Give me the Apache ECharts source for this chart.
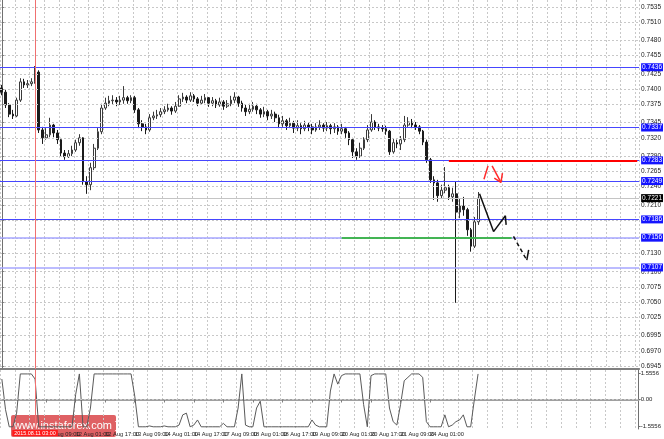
<!DOCTYPE html>
<html>
<head>
<meta charset="utf-8">
<script src="https://cdn.jsdelivr.net/npm/echarts@6/dist/echarts.min.js"></script>
<style>
  html, body { margin: 0; padding: 0; background: #fff; }
  #chart { width: 664px; height: 439px; }
</style>
</head>
<body>
<div id="chart"></div>
<script>
// AUDUSD 2h bars, price in pips (x 0.0001): [open, close, low, high]
var candles = [
  [7402,7395,7390,7407],[7395,7374,7369,7399],[7374,7359,7354,7377],[7359,7356,7351,7366],
  [7356,7382,7354,7386],[7382,7412,7379,7418],[7412,7407,7402,7417],[7407,7409,7402,7415],
  [7409,7412,7405,7418],[7412,7428,7409,7438],[7428,7333,7328,7431],[7333,7320,7310,7338],
  [7320,7325,7317,7336],[7325,7341,7321,7353],[7341,7328,7321,7343],[7328,7317,7310,7333],
  [7317,7295,7290,7320],[7295,7289,7284,7300],[7289,7294,7287,7300],[7294,7300,7290,7307],
  [7300,7312,7297,7317],[7312,7320,7307,7326],[7320,7248,7243,7321],[7248,7243,7228,7257],
  [7243,7271,7234,7279],[7271,7303,7267,7310],[7303,7330,7300,7336],[7330,7369,7326,7376],
  [7369,7377,7366,7386],[7377,7381,7372,7389],[7381,7382,7374,7390],[7382,7379,7372,7387],
  [7379,7382,7374,7389],[7382,7386,7376,7405],[7386,7381,7376,7389],[7381,7386,7377,7390],
  [7386,7366,7361,7389],[7366,7343,7336,7369],[7343,7338,7331,7349],[7338,7333,7326,7343],
  [7333,7353,7330,7359],[7353,7356,7349,7363],[7356,7358,7351,7366],[7358,7363,7354,7369],
  [7363,7366,7359,7372],[7366,7369,7363,7376],[7369,7364,7358,7372],[7364,7372,7361,7379],
  [7372,7384,7371,7390],[7384,7387,7379,7394],[7387,7382,7377,7390],[7382,7389,7379,7395],
  [7389,7384,7379,7392],[7384,7377,7372,7387],[7377,7382,7374,7389],[7382,7386,7377,7392],
  [7386,7377,7371,7387],[7377,7381,7372,7387],[7381,7374,7369,7384],[7374,7379,7371,7386],
  [7379,7372,7366,7382],[7372,7376,7369,7382],[7376,7382,7372,7389],[7382,7387,7377,7395],
  [7387,7377,7371,7389],[7377,7369,7363,7381],[7369,7363,7356,7374],[7363,7367,7359,7376],
  [7367,7372,7363,7379],[7372,7366,7359,7376],[7366,7359,7353,7369],[7359,7363,7354,7371],
  [7363,7356,7349,7366],[7356,7359,7351,7366],[7359,7353,7346,7363],[7353,7343,7336,7358],
  [7343,7348,7338,7356],[7348,7340,7333,7351],[7340,7344,7336,7353],[7344,7336,7328,7348],
  [7336,7340,7331,7349],[7340,7335,7326,7344],[7335,7341,7331,7348],[7341,7338,7331,7346],
  [7338,7333,7326,7343],[7333,7338,7330,7344],[7338,7341,7333,7349],[7341,7336,7330,7344],
  [7336,7340,7331,7346],[7340,7335,7326,7343],[7335,7338,7328,7344],[7338,7331,7325,7341],
  [7331,7335,7326,7343],[7335,7328,7320,7338],[7328,7317,7308,7331],[7317,7297,7287,7320],
  [7297,7290,7284,7303],[7290,7303,7287,7312],[7303,7317,7300,7321],[7317,7333,7313,7341],
  [7333,7346,7330,7359],[7346,7338,7333,7349],[7338,7336,7331,7343],[7336,7335,7330,7341],
  [7335,7331,7325,7340],[7331,7297,7292,7333],[7297,7312,7294,7318],[7312,7310,7303,7317],
  [7310,7317,7300,7323],[7317,7341,7313,7356],[7341,7346,7338,7354],[7346,7341,7336,7351],
  [7341,7338,7333,7346],[7338,7331,7326,7341],[7331,7313,7308,7333],[7313,7284,7279,7317],
  [7284,7251,7246,7287],[7251,7246,7218,7257],[7246,7225,7215,7251],[7225,7234,7221,7243],
  [7234,7238,7229,7272],[7238,7223,7218,7243],[7223,7228,7215,7238],[7228,7198,7049,7248],
  [7198,7208,7188,7221],[7208,7202,7192,7223],[7202,7169,7159,7205],[7169,7142,7133,7172],
  [7142,7182,7139,7190],[7182,7221,7177,7231]
];

// oscillator in the lower panel, one value per bar
var oscillator = [
  1.2, -0.6, -1.6, -1.6, -0.8, 1.5, 1.5, 1.5, 1.5, 1.2,
  -1.6, -1.6, -1.6, -1.6, -1.6, -1.6, -1.6, -1.6, -1.6, -1.6,
  0.3, 1.5, -1.6, -1.6, -0.5, 1.5, 1.5, 1.5, 1.5, 1.5,
  1.5, 1.5, 1.5, 1.5, 1.5, 1.5, 0.2, -1.6, -1.6, -1.6,
  -1.55, -1.6, -1.6, -1.6, -1.55, -1.6, -1.6, -1.6, -1.5, -0.9,
  -0.8, -1.6, -1.5, -1.2, -1.6, -1.6, -1.6, -1.6, -1.6, -1.6,
  -1.4, -1.6, -1.6, -1.6, -0.5, 1.5, -1.5, -1.6, -1.6, -0.5,
  -0.1, -1.6, -1.6, -1.6, -1.6, -1.6, -1.6, -1.6, -1.6, -1.6,
  -1.6, -1.6, -1.6, -1.6, -1.2, -1.5, -1.6, -1.6, -1.6, 0.5,
  1.5, 0.9, 1.4, 1.5, 1.5, 1.5, 1.5, 1.5, -0.3, -1.6,
  1.4, 1.5, 1.5, 1.5, 1.5, -0.5, -1.3, -1.5, -0.3, 1.1,
  1.3, 1.5, 1.5, 1.5, 1.3, -1.3, -1.6, -1.6, -1.6, -1.6,
  -0.9, -1.6, -1.5, -1.3, -1.2, -0.9, -1.6, -1.6, 0.0, 1.5
];

var barSlots = 173; // bars that fit the window, incl. empty future area
var timeLabels = {
  4: '10 Aug 17:00', 12: '11 Aug 09:00', 20: '12 Aug 01:00', 28: '12 Aug 17:00',
  36: '13 Aug 09:00', 44: '14 Aug 01:00', 52: '14 Aug 17:00', 60: '17 Aug 09:00',
  68: '18 Aug 01:00', 76: '18 Aug 17:00', 84: '19 Aug 09:00', 92: '20 Aug 01:00',
  100: '20 Aug 17:00', 108: '21 Aug 09:00', 116: '24 Aug 01:00', 124: '24 Aug 17:00'
};
var priceTicks = [0.7535, 0.7510, 0.7480, 0.7455, 0.7425, 0.7400, 0.7375, 0.7345, 0.7320,
  0.7290, 0.7265, 0.7240, 0.7210, 0.7185, 0.7155, 0.7130, 0.7100, 0.7075, 0.7050,
  0.7025, 0.6995, 0.6970, 0.6945];
var oscTicks = [1.5556, 0, -1.5556];

// levels drawn on the chart
var blueLevels = [0.7436, 0.7337, 0.7283, 0.7249, 0.7186];
var faintLevels = [0.7156, 0.7107];
var lastPrice = 0.7221;
var redLevel = { from: 121, to: 172, value: 0.7283 };
var greenLevel = { from: 92, to: 138, value: 0.7156 };
var crosshairBar = 9;
var crosshairTime = '2015.08.11 03:00';

// hand drawn forecast, [bar position, price]
var forecastSolid = [[129.3, 0.7228], [133.1, 0.7166], [136.3, 0.7192], [136.5, 0.7177]];
var forecastDashed = [[138.5, 0.7158], [142.1, 0.7119]];
var forecastHook = [[142.1, 0.7119], [142.6, 0.7136]];
var redStrokeA = [[130.5, 0.7252], [131.6, 0.7274]];
var redStrokeB = [[132.7, 0.7274], [135.1, 0.7247]];
var redHead = [[133.3, 0.7254], [135.1, 0.7247], [135.5, 0.7262]];

var categories = [];
for (var i = 0; i < barSlots; i++) categories.push(String(i));

var ohlc = candles.map(function (c) {
  return c.map(function (v) { return v / 10000; });
});

var chart = echarts.init(document.getElementById('chart'));
var font = 'Liberation Sans';
var gridColor = '#c8c8c8';

function levelItem(value, lineColor, boxColor, width) {
  return {
    yAxis: value,
    lineStyle: { color: lineColor, width: width, type: 'solid', opacity: 1 },
    label: {
      show: true, position: 'end', distance: 2,
      formatter: value.toFixed(4), color: '#fff', backgroundColor: boxColor,
      fontSize: 6.5, fontFamily: font, padding: [1, 1, 0, 1]
    }
  };
}

var gridMarks = priceTicks.map(function (v) {
  return { yAxis: v, lineStyle: { color: gridColor, type: [2, 2], width: 1 }, label: { show: false } };
});

var levelMarks = [];
blueLevels.forEach(function (v) { levelMarks.push(levelItem(v, '#4646ff', '#1414ff', 1.2)); });
faintLevels.forEach(function (v) { levelMarks.push(levelItem(v, '#a6a6ff', '#1414ff', 1.5)); });
levelMarks.push(levelItem(lastPrice, '#c4c4c4', '#000', 1));

var overlayMarks = [
  { xAxis: crosshairBar, lineStyle: { color: '#f07070', width: 1, type: 'solid' }, label: { show: false } },
  [
    { coord: [redLevel.from, redLevel.value], lineStyle: { color: '#ff0000', width: 2, type: 'solid' }, label: { show: false } },
    { coord: [redLevel.to, redLevel.value] }
  ],
  [
    { coord: [greenLevel.from, greenLevel.value], lineStyle: { color: '#1db31d', width: 1.5, type: 'solid' }, label: { show: false } },
    { coord: [greenLevel.to, greenLevel.value] }
  ]
];

function markSeries(data, z) {
  return {
    type: 'line', xAxisIndex: 0, yAxisIndex: 0, data: [], z: z, silent: true,
    markLine: { symbol: ['none', 'none'], silent: true, animation: false, precision: 4, data: data }
  };
}

function drawn(data, color, dashed) {
  return {
    type: 'line', xAxisIndex: 2, yAxisIndex: 0, data: data, symbol: 'none',
    silent: true, z: 5,
    lineStyle: { color: color, width: 1.5, type: dashed ? [4, 3] : 'solid' }
  };
}

chart.setOption({
  animation: false,
  backgroundColor: '#fff',
  grid: [
    { left: 0, right: 21, top: 0, height: 369 },
    { left: 0, right: 21, top: 370, height: 59 }
  ],
  xAxis: [
    {
      type: 'category', gridIndex: 0, data: categories, boundaryGap: true,
      axisLine: { show: true, lineStyle: { color: '#808080', width: 2 } },
      axisTick: { show: false }, axisLabel: { show: false },
      splitLine: { show: true, interval: function (i) { return i % 4 === 0; }, lineStyle: { color: gridColor, type: [2, 2] } }
    },
    {
      type: 'category', gridIndex: 1, data: categories, boundaryGap: true,
      axisLine: { show: true, lineStyle: { color: '#a0a0a0', width: 2 } },
      axisTick: { show: true, alignWithLabel: true, length: 3, interval: function (i) { return timeLabels[i] !== undefined; }, lineStyle: { color: '#808080' } },
      axisLabel: {
        show: true, interval: function (i) { return timeLabels[i] !== undefined; },
        formatter: function (v) { return timeLabels[v] || ''; },
        align: 'left', margin: 2, fontSize: 5.7, fontFamily: font, color: '#222', hideOverlap: false
      },
      splitLine: { show: true, interval: function (i) { return i % 4 === 0; }, lineStyle: { color: gridColor, type: [2, 2] } }
    },
    { type: 'value', gridIndex: 0, min: -0.5, max: barSlots - 0.5, show: false }
  ],
  yAxis: [
    {
      type: 'value', gridIndex: 0, position: 'right', min: 0.69402, max: 0.75465,
      axisLine: { show: true, lineStyle: { color: '#707070' } },
      axisTick: { show: true, customValues: priceTicks, length: 2, lineStyle: { color: '#707070' } },
      axisLabel: { customValues: priceTicks, formatter: function (v) { return v.toFixed(4); }, fontSize: 6.5, fontFamily: font, color: '#222', margin: 2 },
      splitLine: { show: false }
    },
    {
      type: 'value', gridIndex: 1, position: 'right', min: -1.73, max: 1.73,
      axisLine: { show: true, lineStyle: { color: '#707070' } },
      axisTick: { show: true, customValues: oscTicks, length: 2, lineStyle: { color: '#707070' } },
      axisLabel: { customValues: oscTicks, formatter: function (v) { return v === 0 ? '0.00' : v.toFixed(4); }, fontSize: 6, fontFamily: font, color: '#222', margin: 2 },
      splitLine: { show: false }
    }
  ],
  series: [
    markSeries(gridMarks, 1),
    markSeries(levelMarks, 2),
    {
      type: 'candlestick', xAxisIndex: 0, yAxisIndex: 0, data: ohlc, barWidth: 2.2, z: 3,
      itemStyle: { color: '#ffffff', color0: '#1a1a1a', borderColor: '#3a3a3a', borderColor0: '#1a1a1a', borderWidth: 1 }
    },
    markSeries(overlayMarks, 4),
    {
      type: 'line', xAxisIndex: 1, yAxisIndex: 1, data: oscillator, symbol: 'none', silent: true,
      lineStyle: { color: '#5a5a5a', width: 1 },
      markLine: {
        symbol: ['none', 'none'], silent: true, animation: false, precision: 4,
        data: [
          { yAxis: 0, lineStyle: { color: gridColor, type: [2, 2], width: 1 }, label: { show: false } },
          {
            xAxis: crosshairBar, lineStyle: { color: '#f07070', width: 1, type: 'solid' },
            label: { show: true, position: 'start', distance: 1, formatter: crosshairTime, color: '#fff', backgroundColor: '#ff1a1a', fontSize: 5.4, fontFamily: font, padding: [1, 2, 0, 2] }
          }
        ]
      }
    },
    drawn(forecastSolid, '#111', false),
    drawn(forecastDashed, '#111', true),
    drawn(forecastHook, '#111', false),
    drawn(redStrokeA, '#ff2a2a', false),
    drawn(redStrokeB, '#ff2a2a', false),
    drawn(redHead, '#ff2a2a', false)
  ],
  graphic: [
    {
      type: 'group', left: 8, top: 415, z: 100,
      children: [
        { type: 'rect', shape: { x: 0, y: 0, width: 105, height: 22, r: 2 }, style: { fill: 'rgba(214,52,56,0.78)' } },
        { type: 'text', style: { x: 52, y: 11, text: '[ www.instaforex.com ]', align: 'center', verticalAlign: 'middle', fill: '#fff', font: '11px "Liberation Sans"' } }
      ]
    }
  ]
});
</script>
</body>
</html>
